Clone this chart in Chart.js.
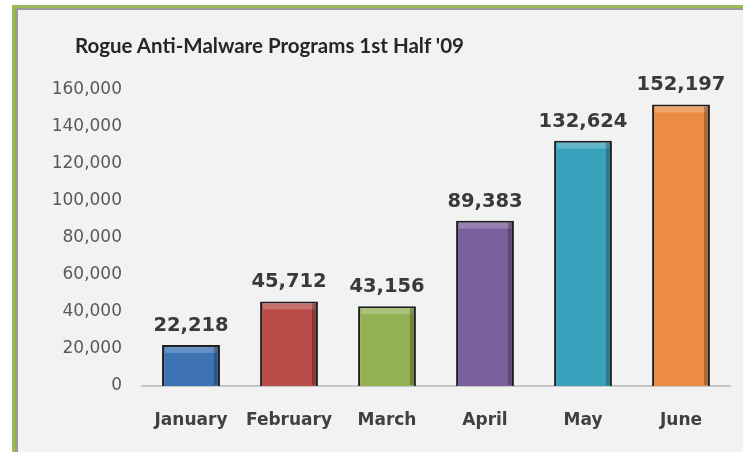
<!DOCTYPE html>
<html>
<head>
<meta charset="utf-8">
<script src="https://cdn.jsdelivr.net/npm/chart.js@4.4.0/dist/chart.umd.min.js"></script>
<style>
  body { margin: 0; background: #ffffff; }
  #frame {
    position: absolute; left: 12px; top: 5px;
    width: 731px; height: 447px;
    border-top: 3px solid #9bbb59; border-left: 3px solid #9bbb59;
    background: #f2f2f2;
    box-shadow: inset 3px 2px 0 #9a9a9a;
  }
  #wrap { position: absolute; left: 0; top: 0; width: 728px; height: 444px; }
  #title {
    position: absolute; left: 60px; top: 25px;
    font: bold 20.5px Lato, sans-serif; color: #262626; white-space: nowrap;
  }
</style>
</head>
<body>
<div id="frame">
  <div id="wrap"><canvas id="barChart"></canvas></div>
  <div id="title">Rogue Anti-Malware Programs 1st Half '09</div>
</div>
<script>
var months = ["January", "February", "March", "April", "May", "June"];
var programs = [22218, 45712, 43156, 89383, 132624, 152197];
var yTicks = [0, 20000, 40000, 60000, 80000, 100000, 120000, 140000, 160000];
var barColors = ["#3d72b3", "#b94b48", "#93b052", "#7b5f9d", "#38a2bd", "#ec8c44"];

function fmt(v) { return v.toLocaleString("en-US"); }

// value labels above the bars + a little bevel shading
var barExtras = {
  id: "barExtras",
  afterDatasetsDraw: function (chart) {
    var ctx = chart.ctx;
    var meta = chart.getDatasetMeta(0);
    ctx.save();
    meta.data.forEach(function (bar, i) {
      var left = bar.x - bar.width / 2, top = bar.y;
      ctx.fillStyle = "rgba(255,255,255,0.22)";
      ctx.fillRect(left + 3, top + 2, bar.width - 6, 6);
      ctx.fillStyle = "rgba(0,0,0,0.25)";
      ctx.fillRect(bar.x + bar.width / 2 - 6, top + 2, 4, bar.base - top - 3);
      ctx.fillStyle = "#3a3a3a";
      ctx.font = "bold 19.5px 'DejaVu Sans'";
      ctx.textAlign = "center";
      ctx.textBaseline = "alphabetic";
      ctx.fillText(fmt(programs[i]), bar.x, bar.y - 14);
    });
    ctx.restore();
  }
};

var canvasBar = document.getElementById("barChart");
const configBar = {
  type: "bar",
  data: {
    labels: months,
    datasets: [{
      label: "Rogue programs",
      data: programs,
      backgroundColor: barColors,
      borderColor: "#1e1e1e",
      borderWidth: 2,
      barPercentage: 0.59,
      categoryPercentage: 1
    }]
  },
  options: {
    responsive: true,
    maintainAspectRatio: false,
    animation: false,
    layout: { padding: { left: 0, right: 13, top: 82, bottom: 0 } },
    plugins: {
      legend: { display: false },
      tooltip: { enabled: false },
      title: { display: false }
    },
    scales: {
      x: {
        grid: { display: false, drawTicks: false },
        border: { display: true, color: "#c6c6c6", width: 2 },
        ticks: { color: "#404040", padding: 24, font: { family: "DejaVu Sans", size: 17, weight: "bold" } },
        afterFit: function (s) { s.height = 66; }
      },
      y: {
        min: 0,
        max: 160000,
        afterBuildTicks: function (s) { s.ticks = yTicks.map(function (v) { return { value: v }; }); },
        grid: { display: false, drawTicks: false },
        border: { display: false },
        ticks: {
          color: "#595959", padding: 20,
          font: { family: "DejaVu Sans", size: 17 },
          callback: function (v) { return fmt(v); }
        },
        afterFit: function (s) { s.width = 127; }
      }
    }
  },
  plugins: [barExtras]
};
var BarChart = new Chart(canvasBar, configBar);
</script>
</body>
</html>
